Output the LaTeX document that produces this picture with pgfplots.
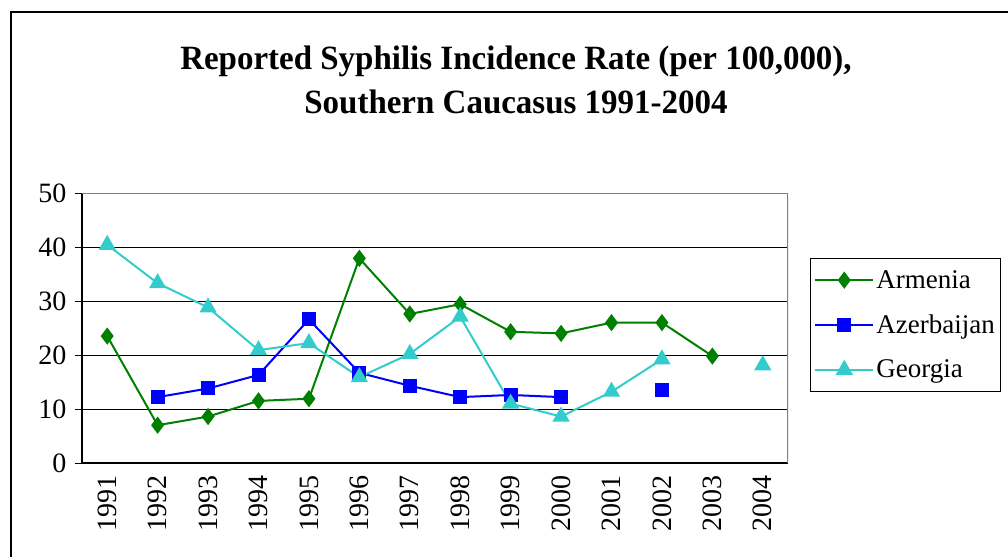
\documentclass[border=0pt]{standalone}
\usepackage{fontspec}
\setmainfont{Liberation Serif}
\newfontfamily\titlefont{Liberation Serif}[FakeStretch=0.97]
\usepackage{pgfplots}
\pgfplotsset{compat=1.18}
\definecolor{arm}{RGB}{0,128,0}
\definecolor{aze}{RGB}{0,0,255}
\definecolor{geo}{RGB}{51,204,204}

\begin{document}
\begin{tikzpicture}[x=1pt,y=1pt]
\useasboundingbox (0,0) rectangle (1008,557);
\draw[line width=1.5pt] (11,0) -- (11,545) -- (1008,545);
\node[font=\titlefont\fontsize{34}{44}\selectfont\bfseries, align=center] at (516,477)
  {Reported Syphilis Incidence Rate (per 100,000),\\ Southern Caucasus 1991-2004};
\begin{axis}[
    at={(82pt,94pt)}, anchor=south west,
    scale only axis, width=706pt, height=270pt,
    xmin=-0.5, xmax=13.5, ymin=0, ymax=50,
    ytick={0,10,...,50},
    xtick={0,...,13},
    xticklabels={1991,1992,1993,1994,1995,1996,1997,1998,1999,2000,2001,2002,2003,2004},
    minor xtick={-0.5,0.5,...,13.5},
    x tick label style={rotate=90, anchor=east, font=\fontsize{28}{28}\selectfont, xshift=-2pt},
    y tick label style={font=\fontsize{28}{28}\selectfont, xshift=-5pt},
    /pgf/number format/assume math mode=true,
    xtick style={draw=none},
    minor tick length=7pt,
    major tick length=7pt,
    tick align=outside,
    minor x tick style={black, line width=1pt},
    ytick style={black, line width=1pt},
    axis x line*=bottom, axis y line*=left,
    axis line style={black, line width=1.3pt, -},
    ymajorgrids, grid style={black, line width=0.8pt},
    unbounded coords=jump,
    legend style={at={(1.031,0.759)}, anchor=north west, draw=black, line width=0.8pt,
      font=\fontsize{27}{27}\selectfont, row sep=21pt, inner xsep=4pt, inner ysep=10pt},
    legend cell align=left,
    legend image code/.code={\draw[mark repeat=2,mark phase=2] plot coordinates {(0pt,0pt) (29pt,0pt) (58pt,0pt)};},
]
\draw[gray, line width=1.3pt] (rel axis cs:0,1) -- (rel axis cs:1,1) -- (rel axis cs:1,0);
\addplot[arm, line width=2pt, mark=diamond*, mark size=7pt, mark options={solid}] coordinates {
 (0,23.5) (1,7.0) (2,8.6) (3,11.5) (4,11.9) (5,37.9) (6,27.6) (7,29.4) (8,24.3) (9,24.0) (10,26.0) (11,26.0) (12,19.8) (13,nan)};
\addlegendentry{Armenia}
\addplot[aze, line width=2pt, mark=square*, mark size=6pt] coordinates {
 (0,nan) (1,12.2) (2,13.8) (3,16.3) (4,26.6) (5,16.7) (6,14.3) (7,12.2) (8,12.6) (9,12.2) (10,nan) (11,13.5) (12,nan) (13,nan)};
\addlegendentry{Azerbaijan}
\addplot[geo, line width=2pt, mark=triangle*, mark size=8pt] coordinates {
 (0,40.4) (1,33.3) (2,28.8) (3,20.9) (4,22.2) (5,15.9) (6,20.2) (7,27.1) (8,11.0) (9,8.6) (10,13.2) (11,19.2) (12,nan) (13,18.1)};
\addlegendentry{Georgia}
\end{axis}
\end{tikzpicture}
\end{document}
